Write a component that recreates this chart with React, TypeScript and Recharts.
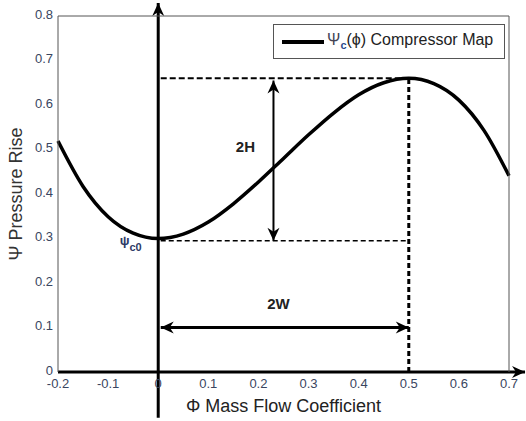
import { LineChart, Line, XAxis, YAxis, ReferenceLine, ReferenceDot } from "recharts";

// compressor characteristic
const phi = [-0.2, -0.15, -0.1, -0.05, 0, 0.05, 0.1, 0.15, 0.2, 0.25, 0.3, 0.35, 0.4, 0.45, 0.5, 0.55, 0.6, 0.65, 0.7];
const psi = [0.519, 0.417, 0.349, 0.312, 0.3, 0.31, 0.337, 0.378, 0.427, 0.48, 0.533, 0.582, 0.623, 0.65, 0.66, 0.648, 0.611, 0.543, 0.441];

const xTicks = [-0.2, -0.1, 0, 0.1, 0.2, 0.3, 0.4, 0.5, 0.6, 0.7];
const yTicks = [0, 0.1, 0.2, 0.3, 0.4, 0.5, 0.6, 0.7, 0.8];
const xTickLabels = ["-0.2", "-0.1", "0", "0.1", "0.2", "0.3", "0.4", "0.5", "0.6", "0.7"];

const psiC0 = 0.3;
const psiPeak = 0.66;
const phiPeak = 0.5;
const hArrowPhi = 0.23;
const wArrowPsi = 0.1;

const data = phi.map((p, i) => ({ phi: p, psi: psi[i] }));

const FONT = "'Liberation Sans', Arial, sans-serif";
const TICK_COLOR = "#394560";
const GRID = "#555";

function head(x: number, y: number, dx: number, dy: number, len = 13, half = 6) {
  const n = Math.hypot(dx, dy) || 1;
  const ux = dx / n;
  const uy = dy / n;
  const bx = x - ux * len;
  const by = y - uy * len;
  const nx = -uy;
  const ny = ux;
  const kx = x - ux * (len - 4);
  const ky = y - uy * (len - 4);
  return `M${x},${y} L${bx + nx * half},${by + ny * half} L${kx},${ky} L${bx - nx * half},${by - ny * half} Z`;
}

function Arrow(props: any, both: boolean, width: number) {
  const { x1, y1, x2, y2 } = props;
  const dx = x2 - x1;
  const dy = y2 - y1;
  return (
    <g>
      <line x1={x1} y1={y1} x2={x2} y2={y2} stroke="#000" strokeWidth={width} />
      <path d={head(x2, y2, dx, dy)} fill="#000" />
      {both && <path d={head(x1, y1, -dx, -dy)} fill="#000" />}
    </g>
  );
}

export default function App() {
  return (
    <div style={{ position: "absolute", left: 0, top: 0, width: 526, height: 421, background: "#fff" }}>
      <LineChart
        width={526}
        height={421}
        data={data}
        margin={{ top: 16, right: 17, left: 18, bottom: 24 }}
        style={{ fontFamily: FONT }}
      >
        <XAxis
          xAxisId="b"
          dataKey="phi"
          type="number"
          domain={[-0.2, 0.7]}
          ticks={xTicks}
          tickFormatter={(v) => xTickLabels[xTicks.indexOf(v)] ?? String(v)}
          axisLine={false}
          tickLine={false}
          tickSize={5}
          tickMargin={2}
          height={25}
          tick={{ fontSize: 13, fill: TICK_COLOR }}
          label={{ value: "Φ Mass Flow Coefficient", position: "insideBottom", offset: -15, fontSize: 18, fill: "#222" }}
        />
        <XAxis xAxisId="bm" type="number" domain={[-0.2, 0.7]} ticks={xTicks} mirror tick={false} axisLine={false} tickLine={{ stroke: GRID }} tickSize={4} />
        <XAxis xAxisId="t" orientation="top" type="number" domain={[-0.2, 0.7]} ticks={xTicks} mirror tick={false} axisLine={{ stroke: GRID }} tickLine={{ stroke: GRID }} tickSize={4} />
        <YAxis
          yAxisId="l"
          type="number"
          domain={[0, 0.8]}
          ticks={yTicks}
          axisLine={{ stroke: GRID }}
          tickLine={false}
          tickSize={3}
          tickMargin={2}
          width={40}
          tick={{ fontSize: 13, fill: TICK_COLOR, dy: -2 }}
          label={{ value: "Ψ Pressure Rise", angle: -90, position: "insideLeft", offset: -2, fontSize: 18, fill: "#333", style: { textAnchor: "middle" } }}
        />
        <YAxis yAxisId="lm" type="number" domain={[0, 0.8]} ticks={yTicks} mirror tick={false} axisLine={false} tickLine={{ stroke: GRID }} tickSize={4} />
        <YAxis yAxisId="r" orientation="right" type="number" domain={[0, 0.8]} ticks={yTicks} mirror tick={false} axisLine={{ stroke: GRID }} tickLine={{ stroke: GRID }} tickSize={4} />

        {/* thick bottom axis with arrow */}
        <ReferenceLine
          xAxisId="b"
          yAxisId="l"
          ifOverflow="visible"
          segment={[{ x: -0.2, y: 0 }, { x: 0.732, y: 0 }]}
          shape={(p: any) => Arrow(p, false, 3)}
        />
        {/* vertical axis at phi = 0 */}
        <ReferenceLine
          xAxisId="b"
          yAxisId="l"
          ifOverflow="visible"
          segment={[{ x: 0, y: -0.103 }, { x: 0, y: 0.829 }]}
          shape={(p: any) => Arrow(p, false, 3)}
        />

        {/* construction lines */}
        <ReferenceLine xAxisId="b" yAxisId="l" segment={[{ x: 0.005, y: psiPeak }, { x: phiPeak, y: psiPeak }]} stroke="#000" strokeWidth={2} strokeDasharray="6 3" />
        <ReferenceLine xAxisId="b" yAxisId="l" segment={[{ x: 0.005, y: psiC0 - 0.005 }, { x: phiPeak, y: psiC0 - 0.005 }]} stroke="#000" strokeWidth={1.3} strokeDasharray="5 3" />
        <ReferenceLine xAxisId="b" yAxisId="l" segment={[{ x: phiPeak, y: 0 }, { x: phiPeak, y: psiPeak }]} stroke="#000" strokeWidth={3} strokeDasharray="5 3" />

        {/* 2H and 2W arrows */}
        <ReferenceLine
          xAxisId="b"
          yAxisId="l"
          segment={[{ x: hArrowPhi, y: psiC0 - 0.005 }, { x: hArrowPhi, y: psiPeak - 0.005 }]}
          shape={(p: any) => Arrow(p, true, 2)}
        />
        <ReferenceLine
          xAxisId="b"
          yAxisId="l"
          segment={[{ x: 0.005, y: wArrowPsi }, { x: phiPeak, y: wArrowPsi }]}
          shape={(p: any) => Arrow(p, true, 3)}
        />

        <Line
          xAxisId="b"
          yAxisId="l"
          type="monotone"
          dataKey="psi"
          stroke="#000"
          strokeWidth={3.5}
          dot={false}
          isAnimationActive={false}
        />

        <ReferenceDot
          xAxisId="b"
          yAxisId="l"
          x={0.174}
          y={0.506}
          shape={(p: any) => (
            <text x={p.cx} y={p.cy} textAnchor="middle" dominantBaseline="central" fontSize={15} fontWeight="bold" fill="#222">
              2H
            </text>
          )}
        />
        <ReferenceDot
          xAxisId="b"
          yAxisId="l"
          x={0.24}
          y={0.155}
          shape={(p: any) => (
            <text x={p.cx} y={p.cy} textAnchor="middle" dominantBaseline="central" fontSize={15} fontWeight="bold" fill="#222">
              2W
            </text>
          )}
        />
        <ReferenceDot
          xAxisId="b"
          yAxisId="l"
          x={-0.077}
          y={0.285}
          shape={(p: any) => (
            <text x={p.cx} y={p.cy} fill="#2d3a66" fontWeight="bold">
              <tspan fontSize={13}>ψ</tspan>
              <tspan fontSize={11} dy={6}>c0</tspan>
            </text>
          )}
        />
      </LineChart>

      {/* legend box */}
      <div
        style={{
          position: "absolute",
          left: 273,
          top: 24,
          width: 232,
          height: 35,
          boxSizing: "border-box",
          border: "1px solid #555",
          background: "#fff",
          display: "flex",
          alignItems: "center",
          fontFamily: FONT,
          fontSize: 16,
          color: "#222",
        }}
      >
        <span style={{ display: "inline-block", width: 42, height: 4, background: "#000", marginLeft: 8, marginRight: 3 }} />
        <span>
          <span style={{ color: "#445" }}>Ψ</span>
          <sub style={{ fontSize: 11, color: "#2a4a8a", fontWeight: "bold" }}>c</sub>
          (ϕ) Compressor Map
        </span>
      </div>
    </div>
  );
}
